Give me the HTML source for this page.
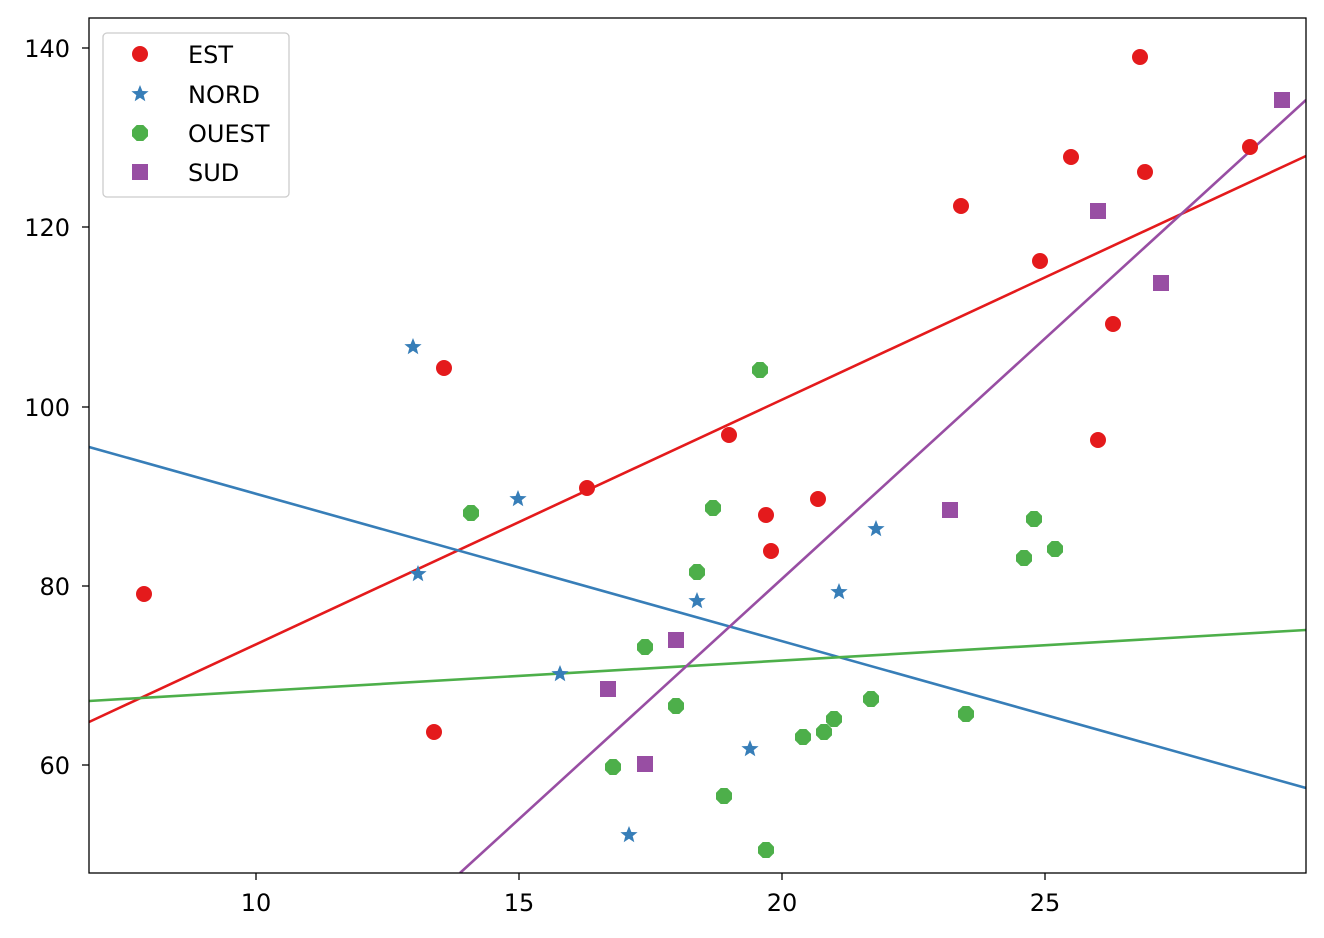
<!DOCTYPE html>
<html><head><meta charset="utf-8"><style>body{margin:0;background:#fff}svg{display:block}text{font-family:"DejaVu Sans","Liberation Sans",sans-serif;font-size:24px;fill:#000}</style></head><body>
<svg width="1324" height="938" viewBox="0 0 1324 938" xmlns="http://www.w3.org/2000/svg">
<defs>
<clipPath id="c"><rect x="89" y="18" width="1217" height="855"/></clipPath>
<circle id="ci" r="8" fill="#e41a1c"/>
<polygon id="st" fill="#377eb8" points="0,-9 2.4,-3 8.6,-2.8 3.7,1.1 5.3,7.3 0,3.7 -5.3,7.3 -3.7,1.1 -8.6,-2.8 -2.4,-3"/>
<polygon id="oc" fill="#4daf4a" points="-3.3,-8 3.3,-8 8,-3.3 8,3.3 3.3,8 -3.3,8 -8,3.3 -8,-3.3"/>
<rect id="sq" x="-8" y="-8" width="16" height="16" fill="#984ea3"/>
</defs>
<g clip-path="url(#c)" stroke-width="2.6">
<line x1="89" y1="722" x2="1306" y2="156" stroke="#e41a1c"/>
<line x1="89" y1="447" x2="1306" y2="788" stroke="#377eb8"/>
<line x1="89" y1="701" x2="1306" y2="630" stroke="#4daf4a"/>
<line x1="460" y1="873" x2="1306" y2="100" stroke="#984ea3"/>
</g>
<g>
<use href="#ci" x="144" y="594"/><use href="#ci" x="444" y="368"/><use href="#ci" x="434" y="732"/><use href="#ci" x="587" y="488"/><use href="#ci" x="729" y="435"/><use href="#ci" x="766" y="515"/><use href="#ci" x="771" y="551"/><use href="#ci" x="818" y="499"/><use href="#ci" x="961" y="206"/><use href="#ci" x="1040" y="261"/><use href="#ci" x="1071" y="157"/><use href="#ci" x="1098" y="440"/><use href="#ci" x="1113" y="324"/><use href="#ci" x="1140" y="57"/><use href="#ci" x="1145" y="172"/><use href="#ci" x="1250" y="147"/>
<use href="#st" x="413" y="347"/><use href="#st" x="418" y="574"/><use href="#st" x="518" y="499"/><use href="#st" x="560" y="674"/><use href="#st" x="629" y="835"/><use href="#st" x="697" y="601"/><use href="#st" x="750" y="749"/><use href="#st" x="839" y="592"/><use href="#st" x="876" y="529"/>
<use href="#oc" x="471" y="513"/><use href="#oc" x="613" y="767"/><use href="#oc" x="645" y="647"/><use href="#oc" x="676" y="706"/><use href="#oc" x="697" y="572"/><use href="#oc" x="713" y="508"/><use href="#oc" x="724" y="796"/><use href="#oc" x="760" y="370"/><use href="#oc" x="766" y="850"/><use href="#oc" x="803" y="737"/><use href="#oc" x="824" y="732"/><use href="#oc" x="834" y="719"/><use href="#oc" x="871" y="699"/><use href="#oc" x="966" y="714"/><use href="#oc" x="1024" y="558"/><use href="#oc" x="1034" y="519"/><use href="#oc" x="1055" y="549"/>
<use href="#sq" x="608" y="689"/><use href="#sq" x="645" y="764"/><use href="#sq" x="676" y="640"/><use href="#sq" x="950" y="510"/><use href="#sq" x="1098" y="211"/><use href="#sq" x="1161" y="283"/><use href="#sq" x="1282" y="100"/>
</g>
<rect x="89" y="18" width="1217" height="855" fill="none" stroke="#000" stroke-width="1.3"/>
<g stroke="#000" stroke-width="1.3">
<line x1="256" y1="873" x2="256" y2="880"/><line x1="519" y1="873" x2="519" y2="880"/><line x1="782" y1="873" x2="782" y2="880"/><line x1="1045" y1="873" x2="1045" y2="880"/>
<line x1="82" y1="48" x2="89" y2="48"/><line x1="82" y1="227" x2="89" y2="227"/><line x1="82" y1="407" x2="89" y2="407"/><line x1="82" y1="586" x2="89" y2="586"/><line x1="82" y1="765" x2="89" y2="765"/>
</g>
<g text-anchor="middle"><text x="256" y="911">10</text><text x="519" y="911">15</text><text x="782" y="911">20</text><text x="1045" y="911">25</text></g>
<g text-anchor="end"><text x="70" y="57">140</text><text x="70" y="236">120</text><text x="70" y="416">100</text><text x="70" y="595">80</text><text x="70" y="774">60</text></g>
<rect x="103" y="33" width="186" height="164" rx="4" fill="#fff" fill-opacity="0.8" stroke="#ccc" stroke-width="1.3"/>
<use href="#ci" x="140" y="54"/><use href="#st" x="140" y="94"/><use href="#oc" x="140" y="133"/><use href="#sq" x="140" y="172"/>
<text x="188" y="63">EST</text><text x="188" y="103">NORD</text><text x="188" y="142">OUEST</text><text x="188" y="181">SUD</text>
</svg>
</body></html>
